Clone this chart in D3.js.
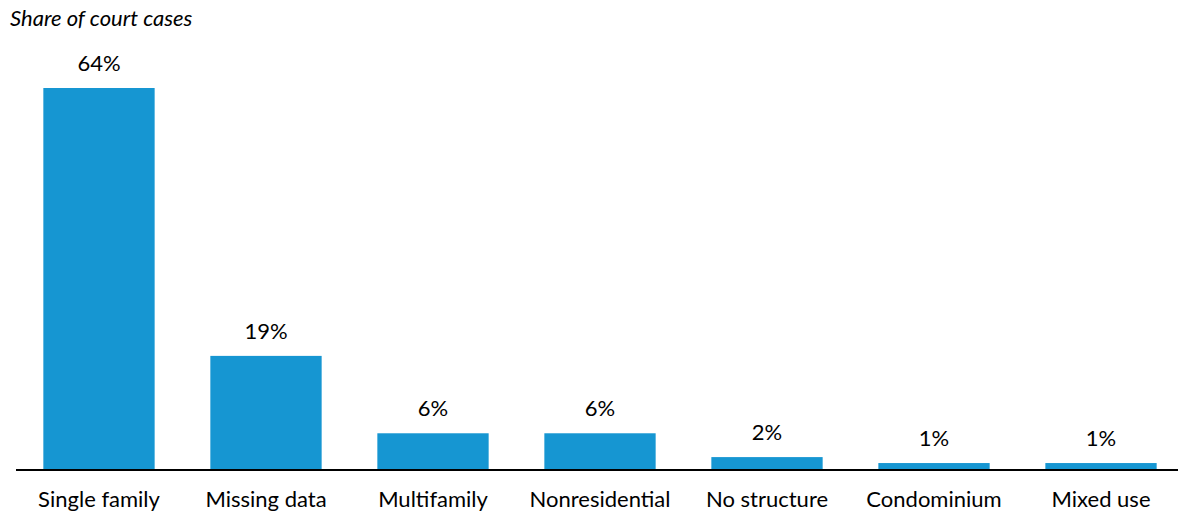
<!DOCTYPE html>
<html>
<head>
<meta charset="utf-8">
<script src="https://cdn.jsdelivr.net/npm/d3@7"></script>
<style>
  html, body { margin: 0; padding: 0; background: #fff; }
  svg { display: block; font-family: Lato, "Open Sans", sans-serif; }
</style>
</head>
<body>
<svg id="chart" width="1178" height="516"></svg>
<script>
// Property types of court cases and their shares (percent)
const categories = ["Single family", "Missing data", "Multifamily", "Nonresidential", "No structure", "Condominium", "Mixed use"];
const shares = [64, 19, 6, 6, 2, 1, 1];
const titleText = "Share of court cases";

const width = 1178, height = 516;
const svg = d3.select("#chart");

const x = d3.scaleBand()
  .domain(categories)
  .range([15.5, 1184.5])
  .paddingInner(0.3335)
  .paddingOuter(0.1667);

const y = d3.scaleLinear()
  .domain([0, 64])
  .range([469, 88]);

// Title
svg.append("text")
  .attr("x", 10)
  .attr("y", 26)
  .attr("font-size", 22)
  .attr("font-style", "italic")
  .attr("fill", "#000")
  .text(titleText);

const data = categories.map((c, i) => ({ category: c, value: shares[i] }));

// Bars
svg.append("g")
  .selectAll("rect")
  .data(data)
  .join("rect")
  .attr("x", d => x(d.category))
  .attr("y", d => y(d.value))
  .attr("width", x.bandwidth())
  .attr("height", d => y(0) - y(d.value))
  .attr("fill", "#1696d2");

// Value labels
svg.append("g")
  .selectAll("text")
  .data(data)
  .join("text")
  .attr("x", d => x(d.category) + x.bandwidth() / 2)
  .attr("y", d => y(d.value) - 17)
  .attr("text-anchor", "middle")
  .attr("font-size", 22)
  .attr("fill", "#000")
  .text(d => d.value + "%");

// Category axis
const xAxis = svg.append("g")
  .attr("transform", `translate(0,${y(0)})`)
  .call(d3.axisBottom(x).tickSize(0).tickPadding(22));
xAxis.select(".domain").remove();
xAxis.selectAll("text")
  .attr("font-size", 22)
  .attr("font-family", "Lato, sans-serif")
  .attr("fill", "#000");

// Baseline
svg.append("line")
  .attr("x1", 16)
  .attr("x2", width)
  .attr("y1", y(0) + 1)
  .attr("y2", y(0) + 1)
  .attr("stroke", "#000")
  .attr("stroke-width", 2);
</script>
</body>
</html>
